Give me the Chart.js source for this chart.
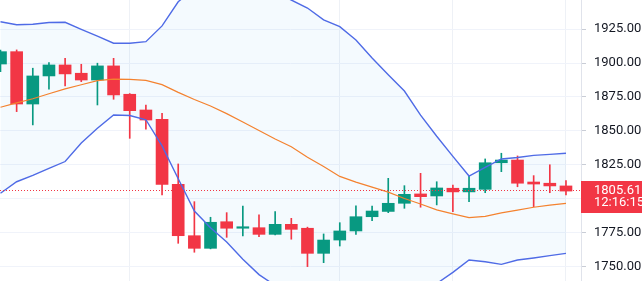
<!DOCTYPE html>
<html>
<head>
<meta charset="utf-8">
<script src="https://cdn.jsdelivr.net/npm/chart.js@4.4.1/dist/chart.umd.min.js"></script>
<style>
  html, body { margin: 0; padding: 0; background: #ffffff; overflow: hidden; }
  #wrap { width: 642px; height: 281px; }
</style>
</head>
<body>
<div id="wrap"><canvas id="priceChart" width="642" height="281"></canvas></div>
<script>
// candle data, one entry per bar (left to right)
const opens  = [1899.3, 1908.4, 1869.8, 1890.5, 1898.6, 1892.5, 1887.5, 1897.9, 1877.0, 1865.4,
                1858.6, 1810.6, 1772.7, 1763.4, 1783.0, 1778.2, 1778.6, 1773.7, 1781.1, 1778.2,
                1759.7, 1769.5, 1776.2, 1786.7, 1790.6, 1796.6, 1803.5, 1802.0, 1807.7, 1805.0,
                1806.9, 1826.5, 1828.5, 1812.3, 1811.4, 1809.4];
const highs  = [1909.5, 1909.7, 1896.2, 1900.3, 1903.5, 1899.1, 1899.9, 1903.5, 1877.5, 1869.1,
                1863.0, 1825.6, 1797.8, 1786.3, 1789.7, 1794.6, 1788.0, 1790.4, 1785.5, 1779.0,
                1774.0, 1782.3, 1794.8, 1794.6, 1815.0, 1809.6, 1818.7, 1812.5, 1810.1, 1816.7,
                1829.3, 1833.5, 1831.5, 1817.0, 1825.0, 1813.3];
const lows   = [1893.7, 1864.2, 1854.4, 1880.7, 1883.1, 1886.3, 1869.1, 1873.3, 1844.5, 1851.2,
                1802.7, 1767.1, 1760.5, 1763.0, 1771.5, 1772.5, 1772.0, 1773.2, 1770.1, 1749.9,
                1752.8, 1765.1, 1773.7, 1783.8, 1789.7, 1792.9, 1793.7, 1795.4, 1790.4, 1797.8,
                1804.4, 1819.9, 1808.8, 1794.1, 1804.4, 1802.7];
const closes = [1908.4, 1869.8, 1890.5, 1898.6, 1892.0, 1887.5, 1897.9, 1876.5, 1864.9, 1858.0,
                1810.6, 1772.7, 1763.4, 1782.6, 1778.2, 1778.5, 1773.7, 1781.1, 1777.4, 1759.7,
                1769.5, 1776.2, 1786.7, 1790.9, 1796.6, 1803.2, 1801.5, 1807.9, 1805.0, 1807.7,
                1826.5, 1828.5, 1811.4, 1810.8, 1809.4, 1805.61];

// bollinger bands
const bbUpper = [1930.5, 1928.3, 1928.6, 1929.9, 1930.1, 1924.9, 1919.8, 1914.6, 1914.6, 1915.8,
                 1927.4, 1945.2, 1955.3, 1958.1, 1957.4, 1957.8, 1956.6, 1952.0, 1946.5, 1940.6,
                 1931.8, 1926.8, 1917.0, 1903.8, 1891.4, 1879.4, 1861.6, 1846.0, 1831.2, 1816.7,
                 1823.1, 1829.3, 1830.4, 1831.9, 1832.7, 1833.5];
const bbBasis = [1867.4, 1870.6, 1873.7, 1877.4, 1881.0, 1884.0, 1887.0, 1888.1, 1887.9, 1887.2,
                 1884.1, 1878.4, 1873.1, 1868.3, 1862.7, 1856.6, 1850.3, 1844.0, 1838.3, 1830.5,
                 1823.8, 1816.4, 1812.2, 1808.5, 1804.8, 1800.1, 1796.1, 1791.7, 1788.8, 1786.1,
                 1787.0, 1789.5, 1791.5, 1793.7, 1795.2, 1796.6];
const bbLower = [1804.0, 1812.5, 1817.2, 1822.4, 1827.4, 1841.1, 1851.9, 1861.7, 1861.3, 1858.2,
                 1838.9, 1814.7, 1790.9, 1778.5, 1768.0, 1755.4, 1744.0, 1736.0, 1730.1, 1720.4,
                 1715.8, 1706.0, 1707.4, 1713.2, 1718.2, 1720.8, 1730.6, 1737.4, 1745.7, 1754.8,
                 1753.5, 1751.6, 1754.8, 1756.3, 1758.0, 1759.7];

const priceTicks = [1750, 1775, 1800, 1825, 1850, 1875, 1900, 1925, 1950];
const timeGridBars = [8, 21, 28, 35];   // bars where the vertical grid lines sit
const countdown = '12:16:15';

const UP = '#089981';
const DOWN = '#f23645';
const FONT = 'Roboto, "Liberation Sans", sans-serif';

const candleColors = opens.map((o, i) => closes[i] >= o ? UP : DOWN);
const bodies = opens.map((o, i) => ({ x: i, y: [o, closes[i]] }));
const wicks = lows.map((l, i) => ({ x: i, y: [l, highs[i]] }));
const toXY = arr => arr.map((v, i) => ({ x: i, y: v }));

const lastClose = closes[closes.length - 1];

// dotted last-price line + red price / countdown tag on the axis
const lastPricePlugin = {
  id: 'lastPrice',
  afterDatasetsDraw(chart) {
    const { ctx, chartArea } = chart;
    const y = Math.round(chart.scales.y.getPixelForValue(lastClose)) - 0.5;
    ctx.save();
    ctx.globalCompositeOperation = 'source-over';
    ctx.strokeStyle = 'rgb(242, 54, 69)';
    ctx.lineWidth = 1;
    ctx.setLineDash([1, 2]);
    ctx.beginPath();
    ctx.moveTo(chartArea.left, y);
    ctx.lineTo(chartArea.right, y);
    ctx.stroke();
    ctx.restore();
  },
  afterDraw(chart) {
    const { ctx, chartArea } = chart;
    const y = chart.scales.y.getPixelForValue(lastClose);
    const x0 = chartArea.right;
    ctx.save();
    ctx.fillStyle = DOWN;
    ctx.fillRect(x0, Math.round(y - 10), chart.width - x0, 32);
    ctx.fillStyle = '#ffffff';
    ctx.font = '13px ' + FONT;
    ctx.textBaseline = 'middle';
    ctx.textAlign = 'left';
    ctx.fillText(lastClose.toFixed(2), x0 + 13, y);
    ctx.fillText(countdown, x0 + 13, y + 12);
    ctx.restore();
  }
};

const ctx = document.getElementById('priceChart').getContext('2d');
const chart = new Chart(ctx, {
  type: 'bar',
  data: {
    datasets: [
      {
        type: 'bar',
        label: 'body',
        data: bodies,
        backgroundColor: candleColors,
        borderWidth: 0,
        barThickness: 12,
        minBarLength: 1.5,
        grouped: false,
        order: 2
      },
      {
        type: 'bar',
        label: 'wick',
        data: wicks,
        backgroundColor: candleColors,
        borderWidth: 0,
        barThickness: 1,
        grouped: false,
        order: 3
      },
      {
        type: 'line',
        label: 'upper',
        data: toXY(bbUpper),
        borderColor: '#4f6be6',
        borderWidth: 1.4,
        pointRadius: 0,
        tension: 0,
        fill: { target: 4 },
        backgroundColor: 'rgba(33, 150, 243, 0.05)',
        order: 0
      },
      {
        type: 'line',
        label: 'basis',
        data: toXY(bbBasis),
        borderColor: '#f4822f',
        borderWidth: 1.2,
        pointRadius: 0,
        tension: 0,
        fill: false,
        order: 1
      },
      {
        type: 'line',
        label: 'lower',
        data: toXY(bbLower),
        borderColor: '#4f6be6',
        borderWidth: 1.4,
        pointRadius: 0,
        tension: 0,
        fill: false,
        order: 0
      }
    ]
  },
  options: {
    responsive: false,
    animation: false,
    layout: { padding: 0 },
    plugins: {
      legend: { display: false },
      tooltip: { enabled: false },
      filler: { drawTime: 'beforeDatasetsDraw' }
    },
    scales: {
      x: {
        type: 'linear',
        min: -0.03,
        max: 35.93,
        offset: false,
        grid: { offset: false, color: '#eef1f6', drawTicks: false },
        border: { display: false },
        ticks: { display: false },
        afterBuildTicks: s => { s.ticks = timeGridBars.map(v => ({ value: v })); },
        afterFit: s => { s.height = 0; s.paddingLeft = 0; s.paddingRight = 0; }
      },
      y: {
        position: 'right',
        min: 1739.3,
        max: 1946.5,
        beginAtZero: false,
        grid: { color: '#f0f3fa', tickLength: 5, tickColor: '#c9cdd6' },
        border: { color: '#e0e3eb' },
        ticks: {
          autoSkip: false,
          padding: 8,
          color: '#131722',
          font: { size: 13, family: FONT },
          callback: v => v.toFixed(2)
        },
        afterBuildTicks: s => { s.ticks = priceTicks.map(v => ({ value: v })); },
        afterFit: s => { s.width = 61; s.paddingTop = 0; s.paddingBottom = 0; }
      }
    }
  },
  plugins: [lastPricePlugin]
});
</script>
</body>
</html>
